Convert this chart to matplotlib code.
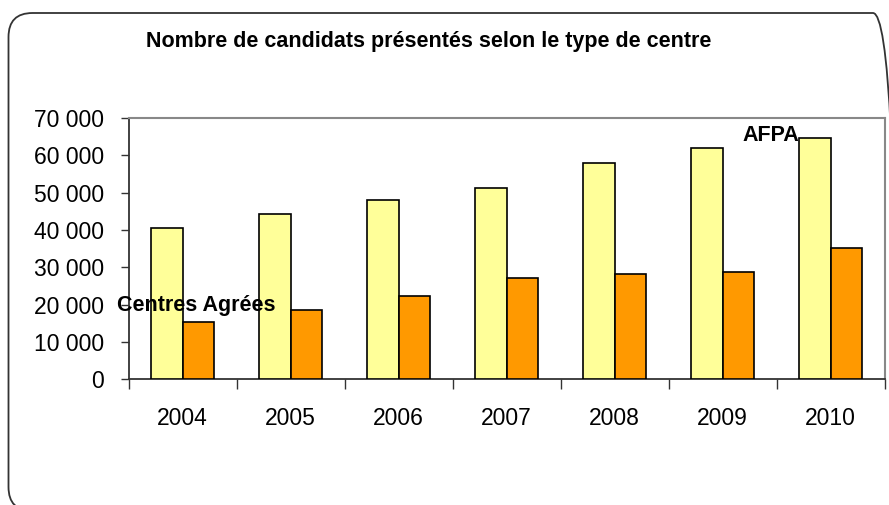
import matplotlib
matplotlib.use("Agg")
import matplotlib.pyplot as plt
from matplotlib.patches import FancyBboxPatch
from matplotlib.transforms import IdentityTransform
from matplotlib.ticker import FuncFormatter, FixedLocator
import numpy as np

years = ["2004", "2005", "2006", "2007", "2008", "2009", "2010"]
afpa = [40600, 44400, 48100, 51300, 57900, 62000, 64700]
centres_agrees = [15400, 18600, 22300, 27200, 28300, 28800, 35300]
title = "Nombre de candidats présentés selon le type de centre"
yticks = [0, 10000, 20000, 30000, 40000, 50000, 60000, 70000]

plt.rcParams['font.family'] = ['Liberation Sans', 'DejaVu Sans']

fig = plt.figure(figsize=(8.89, 5.05), dpi=100)
fig.patch.set_facecolor("white")

# outer rounded frame (in pixel coordinates)
frame = FancyBboxPatch((8.5, -6), 897 - 8.5, 505 - 13 + 6,
                       boxstyle="round,pad=0,rounding_size=24",
                       transform=IdentityTransform(), facecolor="none",
                       edgecolor="#333333", linewidth=1.3)
fig.patches.append(frame)

ax = fig.add_axes([128.7 / 889, 1 - 379.3 / 505, (884.7 - 128.7) / 889, (379.3 - 118) / 505])

x = np.arange(len(years))
w = 0.29
ax.bar(x - w / 2, afpa, width=w, color="#FFFF99", edgecolor="black", linewidth=1.2, zorder=3)
ax.bar(x + w / 2, centres_agrees, width=w, color="#FF9900", edgecolor="black", linewidth=1.2, zorder=3)

ax.set_xlim(-0.5, len(years) - 0.5)
ax.set_ylim(0, 70000)
ax.set_yticks(yticks)
ax.yaxis.set_major_formatter(FuncFormatter(lambda v, p: f"{int(v):,}".replace(",", " ")))
ax.set_xticks(x)
ax.set_xticklabels(years)
ax.xaxis.set_minor_locator(FixedLocator(np.arange(-0.5, len(years), 1.0)))
ax.tick_params(axis="x", which="major", length=0, pad=20, labelsize=16.5)
ax.tick_params(axis="x", which="minor", length=7, width=1, color="#333333", direction="out")
ax.tick_params(axis="y", length=6, width=1, color="#333333", direction="out", pad=12, labelsize=16.5)

for s in ["top", "right"]:
    ax.spines[s].set_color("#888888")
    ax.spines[s].set_linewidth(1.5)
for s in ["left", "bottom"]:
    ax.spines[s].set_color("#333333")
    ax.spines[s].set_linewidth(1.3)
ax.set_facecolor("white")

ax.text(0.13, 19900, "Centres Agrées", ha="center", va="center", fontsize=15.5, fontweight="bold", zorder=5)
ax.text(5.45, 65300, "AFPA", ha="center", va="center", fontsize=15.5, fontweight="bold", zorder=5)

fig.text(429 / 889, 1 - 42 / 505, title, ha="center", va="center", fontsize=15.5, fontweight="bold")

fig.savefig("out.png", dpi=100)
